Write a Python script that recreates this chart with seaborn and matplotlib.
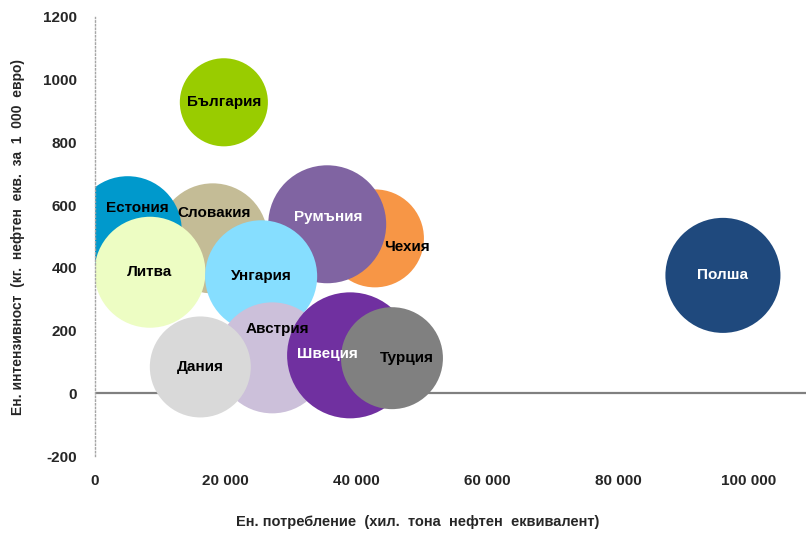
import numpy as np
import pandas as pd
import matplotlib
matplotlib.use("Agg")
import matplotlib.pyplot as plt
import seaborn as sns

# Bubble data (drawing order = stacking order)
countries = ["Словакия", "Естония", "Литва", "Чехия", "Румъния", "Унгария",
             "Австрия", "Дания", "Швеция", "Турция", "България", "Полша"]
consumption = [18000, 5000, 8400, 42800, 35500, 25400,
               27100, 16100, 39000, 45400, 19700, 96000]   # x, хил. тона н.е.
intensity = [494, 520, 386, 494, 539, 373,
             113, 84, 121, 112, 928, 376]                   # y, кг н.е. / 1000 евро
bubble = [30.3, 29.2, 30.8, 24.0, 34.8, 31.4,
          30.8, 25.5, 39.7, 26.0, 19.4, 33.1]               # bubble size (area)

colors = ["#C4BC96", "#0099CC", "#EDFDC3", "#F79646", "#8064A2", "#86DEFF",
          "#CCC0DA", "#D9D9D9", "#7030A0", "#808080", "#99CC00", "#1F497D"]
text_colors = ["black", "black", "black", "black", "white", "black",
               "black", "black", "white", "black", "black", "white"]
# label nudges in points (some labels were moved off the bubble centre)
label_offsets = [(1, 18), (7, 16), (0, 0), (23, -6), (1, 5), (0, 0),
                 (4, 21), (0, 0), (-16, 1), (11, 0), (0, 0), (0, 0)]

df = pd.DataFrame({"country": countries, "x": consumption,
                   "y": intensity, "bubble": bubble})

sns.set_theme(style="white")
plt.rcParams["font.family"] = ["Liberation Sans", "DejaVu Sans"]
plt.rcParams["axes.unicode_minus"] = False

fig = plt.figure(figsize=(8.06, 5.34), dpi=100)
ax = fig.add_axes([95 / 806, 1 - 456 / 534, 711 / 806, 439 / 534])

sns.scatterplot(data=df, x="x", y="y", hue="country", palette=dict(zip(countries, colors)),
                size="bubble", sizes=(0, 8230), size_norm=(0, max(bubble)),
                linewidth=0, alpha=1, legend=False, ax=ax)
for coll in ax.collections:
    coll.set_clip_on(True)
    coll.set_clip_path(ax.patch)

for name, xv, yv, tc, off in zip(countries, consumption, intensity, text_colors, label_offsets):
    ax.annotate(name, (xv, yv), xytext=off, textcoords="offset points",
                ha="center", va="center", fontsize=11, fontweight="bold", color=tc)

ax.set_xlim(0, 108700)
ax.set_ylim(-200, 1200)
ax.set_xticks(np.arange(0, 100001, 20000))
ax.set_xticklabels(["0", "20 000", "40 000", "60 000", "80 000", "100 000"])
ax.set_yticks(np.arange(-200, 1201, 200))
ax.tick_params(axis="x", length=0, pad=13, labelsize=11)
ax.tick_params(axis="y", length=0, pad=13, labelsize=11)
for lbl in ax.get_xticklabels() + ax.get_yticklabels():
    lbl.set_fontweight("bold")

for s in ["top", "right", "bottom"]:
    ax.spines[s].set_visible(False)
ax.spines["left"].set_linestyle(":")
ax.spines["left"].set_color("#A6A6A6")
ax.spines["left"].set_linewidth(1)
ax.axhline(0, color="#808080", lw=1.6, zorder=0)

ax.set_xlabel("Ен. потребление  (хил.  тона  нефтен  еквивалент)", fontsize=10.5,
              fontweight="bold", va="center")
ax.xaxis.set_label_coords(0.454, -0.150)
ax.set_ylabel("Ен. интензивност  (кг.  нефтен  екв.  за  1  000  евро)", fontsize=10,
              fontweight="bold", va="center")
ax.yaxis.set_label_coords(-0.108, 0.499)

fig.savefig("out.png", dpi=100)
